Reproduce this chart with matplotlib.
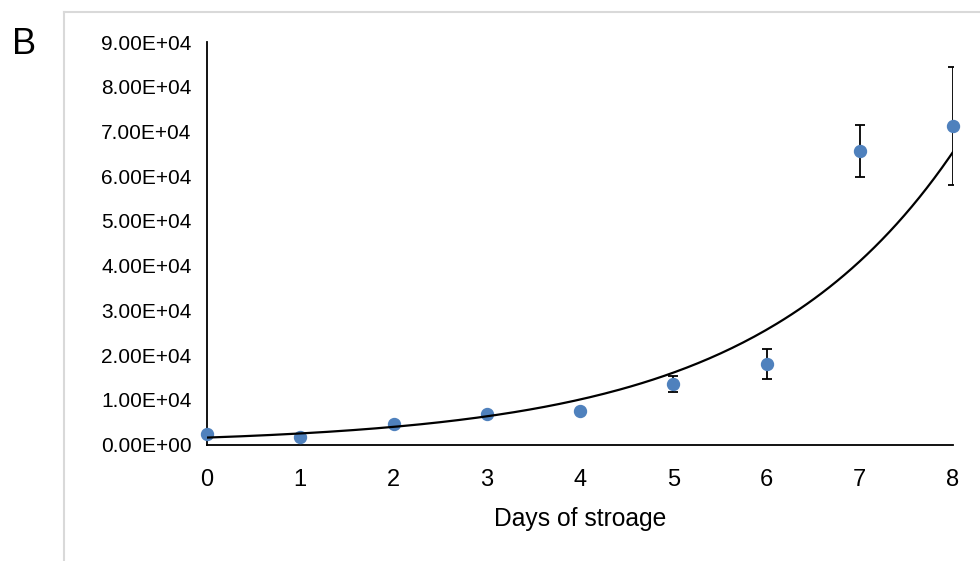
import numpy as np
import matplotlib.pyplot as plt
from matplotlib.lines import Line2D

plt.rcParams['font.family'] = ['Liberation Sans', 'DejaVu Sans']

days = [0, 1, 2, 3, 4, 5, 6, 7, 8]
counts = [2280, 1750, 4520, 6820, 7560, 13500, 18000, 65600, 71200]
errors = [0, 0, 0, 0, 0, 1790, 3350, 5800, 13100]
y_ticks = [0, 10000, 20000, 30000, 40000, 50000, 60000, 70000, 80000, 90000]

# exponential trendline fitted on log scale
slope, intercept = np.polyfit(days, np.log(counts), 1)
fit_x = np.linspace(0, 8, 200)
fit_y = np.exp(intercept) * np.exp(slope * fit_x)

fig = plt.figure(figsize=(9.8, 5.61), dpi=100)
ax = fig.add_axes([207 / 980, 1 - 444.5 / 561, (953 - 207) / 980, (444.5 - 42) / 561])

ax.errorbar(days, counts, yerr=errors, fmt='none', ecolor='black',
            elinewidth=1.3, capsize=3.5, capthick=1.3, zorder=2)
ax.plot(days, counts, 'o', color='#4f81bd', markersize=8.6, zorder=3,
        clip_on=False)
ax.plot(fit_x, fit_y, color='black', linewidth=1.6, zorder=4)

ax.set_xlim(0, 8)
ax.set_ylim(0, 90000)
ax.set_xticks(days)
ax.set_yticks(y_ticks)
ax.set_yticklabels(['%.2fE+%02d' % (v / 10 ** (len(str(v)) - 1) if v else 0,
                                   len(str(v)) - 1 if v else 0) for v in y_ticks])
ax.tick_params(axis='both', length=0)
ax.tick_params(axis='y', labelsize=15, pad=11)
ax.tick_params(axis='x', labelsize=17, pad=18)
ax.set_xlabel('Days of stroage', fontsize=17.7, labelpad=11)

for side in ['top', 'right']:
    ax.spines[side].set_visible(False)
for side in ['left', 'bottom']:
    ax.spines[side].set_color('black')
    ax.spines[side].set_linewidth(1.3)

# panel frame and label
fig.add_artist(Line2D([64 / 980, 1], [1 - 12 / 561] * 2, color='#d9d9d9',
                      linewidth=1.5, transform=fig.transFigure))
fig.add_artist(Line2D([64 / 980] * 2, [0, 1 - 12 / 561], color='#d9d9d9',
                      linewidth=1.5, transform=fig.transFigure))
fig.text(24 / 980, 1 - 44 / 561, 'B', fontsize=26, ha='center', va='center')

fig.savefig('out.png', dpi=100)
